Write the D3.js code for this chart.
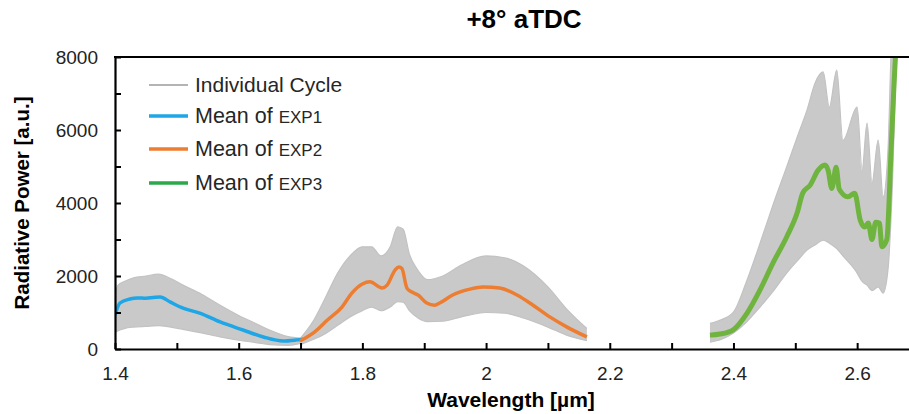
<!DOCTYPE html>
<html>
<head>
<meta charset="utf-8">
<script src="https://cdn.jsdelivr.net/npm/d3@7"></script>
<style>
  html, body { margin: 0; padding: 0; background: #fff; }
  svg { display: block; font-family: "Liberation Sans", Arial, sans-serif; }
</style>
</head>
<body>
<svg id="chart" width="909" height="414"></svg>
<script>
// Spectral band means: [wavelength µm, radiative power a.u.]
const exp1Mean = [[1.400,930],[1.408,1260],[1.424,1370],[1.436,1400],[1.450,1390],[1.462,1410],[1.473,1425],[1.489,1290],[1.510,1120],[1.537,985],[1.570,740],[1.607,520],[1.640,330],[1.672,220],[1.694,250],[1.704,270]];
const exp2Mean = [[1.699,220],[1.723,470],[1.744,800],[1.767,1150],[1.783,1530],[1.800,1780],[1.812,1840],[1.832,1670],[1.840,1750],[1.853,2170],[1.859,2250],[1.864,2200],[1.872,1670],[1.880,1560],[1.890,1480],[1.904,1260],[1.917,1200],[1.925,1260],[1.946,1480],[1.974,1640],[1.995,1700],[2.022,1670],[2.050,1480],[2.076,1200],[2.103,880],[2.131,600],[2.163,330]];
const exp3Mean = [[2.362,380],[2.378,410],[2.399,520],[2.422,985],[2.443,1620],[2.464,2360],[2.486,3070],[2.503,3730],[2.512,4270],[2.524,4490],[2.537,4900],[2.548,5040],[2.553,4900],[2.559,4400],[2.566,4980],[2.571,4380],[2.585,4170],[2.596,4270],[2.605,3530],[2.612,3340],[2.618,3450],[2.624,3000],[2.630,3470],[2.636,3450],[2.640,2800],[2.648,3000],[2.655,5500],[2.662,8000],[2.666,8800]];

// Spread of the individual cycles: [wavelength, lowest cycle, highest cycle]
const exp1Cycles = [[1.400,450,1500],[1.405,500,1750],[1.415,560,1850],[1.430,600,1950],[1.450,620,2000],[1.470,640,2050],[1.490,600,1930],[1.510,540,1750],[1.540,440,1500],[1.570,330,1200],[1.600,240,920],[1.630,170,680],[1.650,120,520],[1.680,100,340],[1.700,150,300]];
const exp2Cycles = [[1.700,120,300],[1.720,260,750],[1.740,420,1400],[1.760,650,2080],[1.780,880,2550],[1.800,1050,2800],[1.815,1150,2800],[1.830,1050,2550],[1.845,1150,2800],[1.857,1300,3350],[1.866,1280,3280],[1.876,1050,2600],[1.890,850,2150],[1.905,750,1900],[1.930,760,2000],[1.960,880,2300],[2.000,1000,2550],[2.030,980,2500],[2.060,850,2280],[2.100,600,1700],[2.130,380,1100],[2.163,230,560]];
const exp3Cycles = [[2.362,190,700],[2.380,260,800],[2.400,440,1010],[2.420,720,1800],[2.443,1150,2900],[2.465,1600,4000],[2.486,2080,4990],[2.505,2450,5900],[2.519,2710,6550],[2.532,2850,7290],[2.545,2980,7590],[2.555,2900,6630],[2.567,2750,7640],[2.577,2550,5720],[2.600,2080,6630],[2.608,1850,4900],[2.616,1750,6190],[2.624,1600,4550],[2.634,1700,5720],[2.642,1530,4170],[2.650,2200,5500],[2.657,4500,8800],[2.665,8800,8800]];

const yTicks = [0,1000,2000,3000,4000,5000,6000,7000,8000];
const yTickLabels = ["0","","2000","","4000","","6000","","8000"];
const xTicks = [1.4,1.5,1.6,1.7,1.8,1.9,2.0,2.1,2.2,2.3,2.4,2.5,2.6];
const xTickLabels = ["1.4","","1.6","","1.8","","2","","2.2","","2.4","","2.6"];

const legendItems = [
  {label: "Individual Cycle", sub: "", color: "#b4b4b4", width: 2},
  {label: "Mean of ", sub: "EXP1", color: "#1ea6e6", width: 3.5},
  {label: "Mean of ", sub: "EXP2", color: "#ed7d31", width: 3.5},
  {label: "Mean of ", sub: "EXP3", color: "#2aa84a", width: 3.5}
];

const svg = d3.select("#chart");
const plotLeft = 115, plotTop = 57, plotBottom = 349, plotRight = 919;

const x = d3.scaleLinear().domain([1.4, 2.7]).range([plotLeft, plotRight]);
const y = d3.scaleLinear().domain([0, 8000]).range([plotBottom, plotTop]);

svg.append("defs").append("clipPath").attr("id", "plotClip")
  .append("rect").attr("x", plotLeft).attr("y", plotTop)
  .attr("width", plotRight - plotLeft).attr("height", plotBottom - plotTop);

const plot = svg.append("g").attr("clip-path", "url(#plotClip)");

const band = d3.area()
  .x(d => x(d[0])).y0(d => y(d[1])).y1(d => y(d[2]))
  .curve(d3.curveMonotoneX);
const edgeHi = d3.line().x(d => x(d[0])).y(d => y(d[2])).curve(d3.curveMonotoneX);
const edgeLo = d3.line().x(d => x(d[0])).y(d => y(d[1])).curve(d3.curveMonotoneX);
const meanLine = d3.line().x(d => x(d[0])).y(d => y(d[1])).curve(d3.curveMonotoneX);

[exp1Cycles, exp2Cycles, exp3Cycles].forEach(c => {
  plot.append("path").attr("d", band(c)).attr("fill", "#c9c9c9");
  plot.append("path").attr("d", edgeHi(c)).attr("fill", "none").attr("stroke", "#c2c2c2").attr("stroke-width", 1.2);
  plot.append("path").attr("d", edgeLo(c)).attr("fill", "none").attr("stroke", "#c2c2c2").attr("stroke-width", 1.2);
});

plot.append("path").attr("d", meanLine(exp1Mean)).attr("fill", "none")
  .attr("stroke", "#1ea6e6").attr("stroke-width", 3.5).attr("stroke-linejoin", "round");
plot.append("path").attr("d", meanLine(exp2Mean)).attr("fill", "none")
  .attr("stroke", "#ed7d31").attr("stroke-width", 3.5).attr("stroke-linejoin", "round");
plot.append("path").attr("d", meanLine(exp3Mean)).attr("fill", "none")
  .attr("stroke", "#6fb43f").attr("stroke-width", 5).attr("stroke-linejoin", "round");

// Axes with inward ticks
const yAxis = d3.axisLeft(y).tickValues(yTicks)
  .tickFormat((d, i) => yTickLabels[i]).tickSizeInner(-6).tickSizeOuter(0).tickPadding(17);
const gy = svg.append("g").attr("transform", `translate(${plotLeft},0)`).call(yAxis);

const xAxis = d3.axisBottom(x).tickValues(xTicks)
  .tickFormat((d, i) => xTickLabels[i]).tickSizeInner(-6).tickSizeOuter(0).tickPadding(18);
const gx = svg.append("g").attr("transform", `translate(0,${plotBottom})`).call(xAxis);

[gx, gy].forEach(g => {
  g.select(".domain").attr("stroke", "#000").attr("stroke-width", 2.2);
  g.selectAll(".tick line").attr("stroke", "#000").attr("stroke-width", 2);
  g.selectAll(".tick text").attr("fill", "#222").style("font-size", "19px")
    .style("font-family", "'Liberation Sans', Arial, sans-serif");
});

// Top frame line
svg.append("line").attr("x1", plotLeft - 1).attr("x2", plotRight).attr("y1", plotTop).attr("y2", plotTop)
  .attr("stroke", "#000").attr("stroke-width", 2.2);

// Titles
svg.append("text").attr("x", 524).attr("y", 28).attr("text-anchor", "middle")
  .style("font-size", "26px").style("font-weight", "bold").attr("fill", "#000").text("+8° aTDC");
svg.append("text").attr("x", 511).attr("y", 407).attr("text-anchor", "middle")
  .style("font-size", "21px").style("font-weight", "bold").attr("fill", "#000").text("Wavelength [µm]");
svg.append("text").attr("transform", "translate(29,203) rotate(-90)").attr("text-anchor", "middle")
  .style("font-size", "20.5px").style("font-weight", "bold").attr("fill", "#000").text("Radiative Power [a.u.]");

// Legend
const legendRows = [85, 116, 149, 183];
const lg = svg.append("g");
legendItems.forEach((item, i) => {
  const ry = legendRows[i];
  lg.append("line").attr("x1", 149).attr("x2", 188).attr("y1", ry).attr("y2", ry)
    .attr("stroke", item.color).attr("stroke-width", item.width);
  const t = lg.append("text").attr("x", 195).attr("y", ry + 7).attr("fill", "#262626")
    .style("font-size", i === 0 ? "21px" : "21.5px");
  t.append("tspan").text(item.label);
  if (item.sub) t.append("tspan").style("font-size", "17px").text(item.sub);
});
</script>
</body>
</html>
